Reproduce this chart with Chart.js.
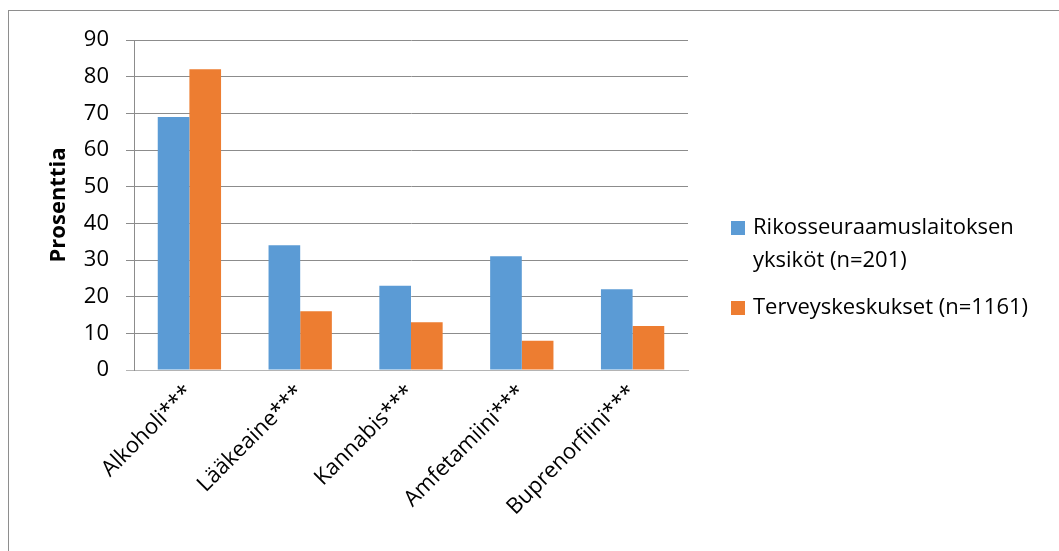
<!DOCTYPE html>
<html lang="fi">
<head>
    <meta charset="UTF-8">
    <title>Prosenttia</title>
    <script src="https://cdn.jsdelivr.net/npm/chart.js"></script>
    <style>
        html, body { margin: 0; padding: 0; background: #fff; overflow: hidden; }
        #frame {
            position: absolute; left: 8px; top: 10px; width: 1100px; height: 600px;
            border-top: 1px solid #8e8e8e; border-left: 1px solid #8e8e8e;
        }
        #wrap { position: absolute; left: 0; top: 0; width: 1059px; height: 551px; }
    </style>
</head>
<body>
    <div id="frame"></div>
    <div id="wrap"><canvas id="drugChart"></canvas></div>

    <script>
        const categories = ['Alkoholi***', 'Lääkeaine***', 'Kannabis***', 'Amfetamiini***', 'Buprenorfiini***'];
        const seriesNames = ['Rikosseuraamuslaitoksen yksiköt (n=201)', 'Terveyskeskukset (n=1161)'];
        const rikosValues = [69, 34, 23, 31, 22];
        const terveysValues = [82, 16, 13, 8, 12];
        const yTicks = [0, 10, 20, 30, 40, 50, 60, 70, 80, 90];

        const FONT = '"Open Sans", "Noto Sans", sans-serif';
        const SIZE = 22;

        // legend drawn at the right side, wrapping long labels
        const sideLegend = {
            id: 'sideLegend',
            afterDraw(chart) {
                const ctx = chart.ctx;
                const x = 731, box = 14, textX = 753, lineH = 33;
                let y = 228;
                ctx.save();
                ctx.font = SIZE + 'px ' + FONT;
                ctx.textBaseline = 'middle';
                chart.data.datasets.forEach(ds => {
                    const words = ds.label.split(' ');
                    const lines = [];
                    let cur = '';
                    words.forEach(w => {
                        const test = cur ? cur + ' ' + w : w;
                        if (ctx.measureText(test).width > 300 && cur) {
                            lines.push(cur);
                            cur = w;
                        } else {
                            cur = test;
                        }
                    });
                    lines.push(cur);
                    ctx.fillStyle = ds.backgroundColor;
                    ctx.fillRect(x, y - box / 2, box, box);
                    ctx.fillStyle = '#000';
                    lines.forEach((l, i) => ctx.fillText(l, textX, y + i * lineH));
                    y += lines.length * lineH + 14;
                });
                ctx.restore();
            }
        };

        const ctx = document.getElementById('drugChart').getContext('2d');
        new Chart(ctx, {
            type: 'bar',
            data: {
                labels: categories,
                datasets: [{
                    label: seriesNames[0],
                    data: rikosValues,
                    backgroundColor: '#5b9bd5'
                }, {
                    label: seriesNames[1],
                    data: terveysValues,
                    backgroundColor: '#ed7d31'
                }]
            },
            options: {
                responsive: true,
                maintainAspectRatio: false,
                animation: false,
                layout: { padding: { left: 0, top: 40, right: 371, bottom: 0 } },
                datasets: { bar: { categoryPercentage: 2 / 3.5, barPercentage: 1, borderWidth: 0 } },
                plugins: {
                    legend: { display: false },
                    tooltip: { enabled: false }
                },
                scales: {
                    x: {
                        grid: { display: false },
                        border: { display: true, color: '#b4b4b4', width: 1 },
                        ticks: {
                            color: '#000',
                            font: { family: FONT, size: SIZE },
                            minRotation: 45,
                            maxRotation: 45,
                            padding: 2
                        },
                        afterFit(scale) { scale.height = 181; }
                    },
                    y: {
                        min: 0,
                        max: 90,
                        afterBuildTicks(scale) { scale.ticks = yTicks.map(v => ({ value: v })); },
                        grid: {
                            color: c => c.tick && c.tick.value === 0 ? '#b4b4b4' : '#8c8c8c',
                            lineWidth: 1,
                            tickLength: 8
                        },
                        border: { display: true, color: '#8c8c8c', width: 1 },
                        ticks: {
                            color: '#000',
                            font: { family: FONT, size: SIZE },
                            padding: 17
                        },
                        title: {
                            display: true,
                            text: 'Prosenttia',
                            color: '#000',
                            font: { family: FONT, size: SIZE, weight: 'bold' },
                            padding: { top: 46, bottom: 0 }
                        },
                        afterFit(scale) { scale.width = 134; }
                    }
                }
            },
            plugins: [sideLegend]
        });
    </script>
</body>
</html>
